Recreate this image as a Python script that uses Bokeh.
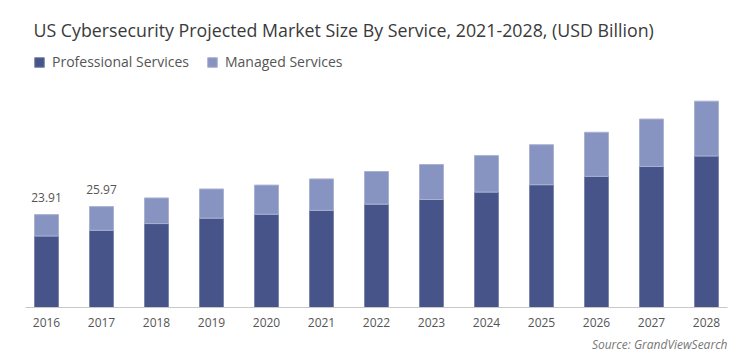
from bokeh.plotting import figure
from bokeh.models import Range1d, FixedTicker, Legend, LegendItem, Title, ColumnDataSource
from bokeh.embed import file_html
from bokeh.resources import INLINE
from bokeh.core.properties import value

years = [2016, 2017, 2018, 2019, 2020, 2021, 2022, 2023, 2024, 2025, 2026, 2027, 2028]
professional = [18.4, 19.87, 21.6, 23.0, 24.0, 25.0, 26.6, 27.8, 29.7, 31.6, 33.75, 36.3, 39.0]
managed = [5.51, 6.10, 6.6, 7.5, 7.5, 8.1, 8.4, 9.0, 9.4, 10.3, 11.35, 12.2, 14.1]
label_years = [2016, 2017]
label_texts = ["23.91", "25.97"]

DARK = "#47548a"
LIGHT = "#8794c2"
FONT = "Open Sans"

totals = [p + m for p, m in zip(professional, managed)]
src = ColumnDataSource(dict(x=years, prof=professional, man=managed, tot=totals))
lab_src = ColumnDataSource(dict(x=label_years, y=[totals[years.index(y)] for y in label_years], t=label_texts))

p = figure(width=750, height=358, x_range=Range1d(years[0] - 0.382, years[-1] + 0.382),
           y_range=Range1d(0, 67.69), toolbar_location=None, output_backend="svg",
           y_axis_location=None, min_border_left=25, min_border_right=23,
           min_border_top=44, min_border_bottom=51, outline_line_color=None)

p.title.text = "US Cybersecurity Projected Market Size By Service, 2021-2028, (USD Billion)"
p.title.text_font = FONT
p.title.text_font_size = "17.8px"
p.title.text_font_style = "normal"
p.title.text_color = "#3a3a3a"
p.title.offset = 8
p.title.standoff = 6

r1 = p.vbar(x="x", top="prof", bottom=0, width=0.436, source=src, fill_color=DARK,
            line_color="#7c86ab", line_width=1)
r2 = p.vbar(x="x", top="tot", bottom="prof", width=0.436, source=src, fill_color=LIGHT,
            line_color="#aab2d0", line_width=1)

p.text(x="x", y="y", text="t", source=lab_src, text_align="center", text_baseline="bottom",
       y_offset=-13, text_font=value(FONT), text_font_size="12px", text_color="#555555")

legend = Legend(items=[LegendItem(label="Professional Services", renderers=[r1]),
                       LegendItem(label="Managed Services", renderers=[r2])],
                orientation="horizontal", location="top_left", border_line_color=None,
                background_fill_alpha=0, margin=8, padding=0, spacing=17,
                glyph_width=12, glyph_height=12, label_standoff=7,
                label_text_font=FONT, label_text_font_size="14px", label_text_color="#555555")
p.add_layout(legend)

p.add_layout(Title(text="Source: GrandViewSearch", align="right", text_font=FONT, standoff=8,
                   text_font_size="12px", text_font_style="italic", text_color="#777777"), "below")

p.xgrid.visible = False
p.ygrid.visible = False
p.xaxis.ticker = FixedTicker(ticks=years)
p.xaxis.major_tick_line_color = None
p.xaxis.minor_tick_line_color = None
p.xaxis.axis_line_color = "#c8c8c8"
p.xaxis.major_label_standoff = 4
p.xaxis.major_label_text_font = FONT
p.xaxis.major_label_text_font_size = "12px"
p.xaxis.major_label_text_color = "#555555"

open("out.html", "w").write(file_html(p, INLINE))
